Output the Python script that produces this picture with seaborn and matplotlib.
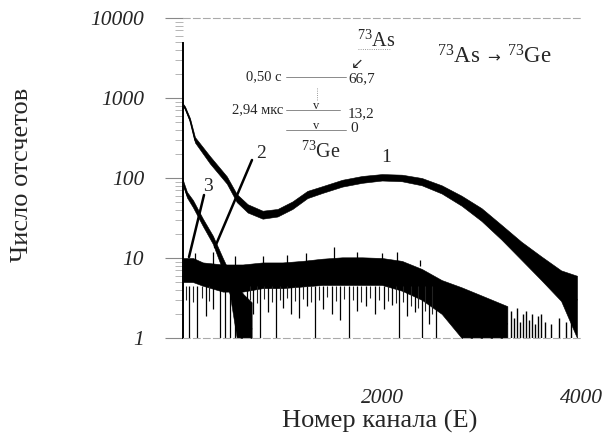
import matplotlib
matplotlib.use("Agg")
import pandas as pd
import matplotlib.pyplot as plt
from matplotlib.lines import Line2D
from matplotlib.ticker import LogLocator, NullFormatter, NullLocator
import seaborn as sns

# --- data (channel, counts) ---
# curve 1: main spectrum (band = noise envelope)
ch1 = [0, 20, 70, 120, 270, 440, 540, 650, 800, 950, 1100, 1250, 1400, 1600, 1800,
       2000, 2200, 2400, 2600, 2800, 3000, 3200, 3400, 3600, 3800, 3960]
c1_mid = [820, 754, 532, 300, 168, 94, 56, 42, 35, 37, 46, 62, 72, 86, 96,
          102, 100, 90, 72, 52, 35, 21, 12.5, 7.5, 4.5, 3]
c1_lo = [790, 725, 505, 278, 152, 85, 50, 37, 31, 33, 41, 56, 65, 78, 87,
         93, 91, 81, 64, 45, 29, 17, 9.5, 5.3, 2.9, 1]
c1_hi = [850, 785, 560, 325, 188, 105, 63, 47, 39, 41, 51, 69, 79, 95, 106,
         112, 110, 100, 81, 60, 42, 26, 16, 10.5, 7, 6]

# curve 2: fast decaying component
ch2 = [0, 10, 40, 100, 200, 300, 400, 470, 540, 610, 690]
c2_mid = [88, 80, 62, 48, 28, 17, 8.5, 5, 3, 2, 1.3]
c2_lo = [82, 74, 57, 43, 25, 15, 7, 3.5, 1, 1, 1]
c2_hi = [94, 86, 67, 53, 31, 19, 10, 6.5, 4.5, 3.5, 2.8]

# curve 3: background floor
ch3 = [0, 100, 200, 400, 600, 800, 1000, 1200, 1400, 1600, 1800, 2000, 2200,
       2400, 2600, 2800, 3000, 3260]
c3_mid = [7.2, 7.2, 6.5, 5.6, 5.6, 6.0, 6.0, 6.3, 6.8, 7.0, 7.0, 6.9, 6.0,
          4.8, 3.4, 2.3, 1.8, 1.5]
c3_lo = [5.0, 5.0, 4.5, 3.8, 3.8, 4.2, 4.2, 4.4, 4.6, 4.6, 4.6, 4.6, 3.9,
         3.0, 2.0, 1.0, 1.0, 1.0]
c3_hi = [10.0, 10.0, 8.8, 8.3, 8.3, 8.8, 8.8, 9.2, 9.8, 10.2, 10.2, 10.0, 9.2,
         7.3, 5.3, 4.3, 3.4, 2.5]

# downward noise spikes of the floor
spk_ch = [60, 140, 230, 300, 370, 420, 470, 520, 570, 640, 700, 770, 850, 930,
          1010, 1090, 1170, 1250, 1330, 1410, 1500, 1580, 1670, 1750, 1840, 1930,
          2020, 2100, 2170, 2250, 2330, 2400, 2470, 2540]
spk_lo = [1, 1, 1.9, 2.3, 1, 1, 1, 1, 1, 1.6, 2.0, 1, 2.1, 1, 2.4, 2.0, 1.8,
          2.5, 1, 2.3, 2.0, 1.7, 1, 2.2, 2.5, 2.0, 2.3, 2.6, 1, 1.9, 2.1, 1, 1.5, 1]
# shorter downward spikes (texture of the lower edge)
spk2_ch = [30, 100, 190, 260, 670, 740, 810, 890, 970, 1050, 1130, 1210, 1290,
           1370, 1450, 1540, 1620, 1710, 1790, 1880, 1970, 2060, 2140, 2210, 2290,
           2360, 2430, 2500]
spk2_lo = [3.0, 2.8, 3.2, 2.9, 3.0, 2.7, 3.1, 2.8, 3.0, 3.2, 2.9, 3.1, 2.8,
           3.0, 3.3, 2.9, 3.1, 3.0, 2.8, 3.2, 3.0, 2.9, 2.7, 2.8, 2.5, 2.4, 2.2, 2.0]
# upward spikes of the floor
up_ch = [120, 300, 520, 800, 1050, 1240, 1520, 1750, 2000, 2150, 2380]
up_hi = [11.5, 12, 10.5, 10.5, 11, 11.5, 13.7, 12, 11.5, 12, 9.5]
# sparse counts in the tail
tail_ch = [3300, 3330, 3360, 3390, 3420, 3450, 3480, 3510, 3540, 3570, 3600,
           3640, 3700, 3780, 3850, 3900]
tail_hi = [2.2, 1.8, 2.4, 1.6, 2.0, 2.2, 1.7, 2.0, 1.5, 1.9, 2.0, 1.6, 1.5,
           1.8, 1.6, 2.0]

yticks = [1, 10, 100, 1000, 10000]
ytick_labels = ["1", "10", "100", "1000", "10000"]
xticks = [2000, 4000]
xtick_labels = ["2000", "4000"]

W, H = 604, 434


def fx(x):
    return x / W


def fy(y):
    return 1 - y / H


sns.set_theme(style="white")
plt.rcParams["font.family"] = ["Liberation Serif", "DejaVu Serif"]
plt.rcParams["mathtext.fontset"] = "custom"
plt.rcParams["mathtext.rm"] = "Liberation Serif"
plt.rcParams["mathtext.it"] = "Liberation Serif:italic"

fig = plt.figure(figsize=(6.04, 4.34), dpi=100)
ax = fig.add_axes([183 / W, 1 - 338 / H, (581 - 183) / W, (338 - 18) / H])
ax.set_yscale("log")
ax.set_xlim(0, 4000)
ax.set_ylim(1, 10000)

# noise bands
for c, lo, hi in [(ch1, c1_lo, c1_hi), (ch2, c2_lo, c2_hi), (ch3, c3_lo, c3_hi)]:
    ax.fill_between(c, lo, hi, color="black", lw=0.4)

# centre lines
df = pd.concat([
    pd.DataFrame({"channel": ch1, "counts": c1_mid, "curve": "1"}),
    pd.DataFrame({"channel": ch2, "counts": c2_mid, "curve": "2"}),
    pd.DataFrame({"channel": ch3, "counts": c3_mid, "curve": "3"}),
])
sns.lineplot(data=df, x="channel", y="counts", hue="curve", units="curve",
             estimator=None, palette=["black"] * 3, legend=False, lw=1.0, ax=ax)

ax.vlines(spk_ch, spk_lo, [4.5] * len(spk_ch), color="black", lw=0.9)
ax.vlines(spk2_ch, spk2_lo, [4.5] * len(spk2_ch), color="#222222", lw=0.8)
ax.vlines(up_ch, [8] * len(up_ch), up_hi, color="black", lw=0.9)
ax.vlines(tail_ch, [1] * len(tail_ch), tail_hi, color="black", lw=1.0)

# axes styling
for s in ["top", "bottom"]:
    ax.spines[s].set_color("#aaaaaa")
    ax.spines[s].set_linewidth(0.8)
    ax.spines[s].set_linestyle((0, (6, 3)))
ax.spines["right"].set_visible(False)
ax.spines["left"].set_color("black")
ax.spines["left"].set_linewidth(1.4)
ax.spines["left"].set_bounds(1, 4900)

ax.set_yticks(yticks)
ax.set_yticklabels(ytick_labels, fontstyle="italic", fontsize=15.5)
ax.yaxis.set_minor_locator(LogLocator(base=10, subs=range(2, 10)))
ax.yaxis.set_minor_formatter(NullFormatter())
ax.tick_params(axis="y", which="major", direction="out", left=True, length=13,
               width=0.8, color="#888888", pad=15)
ax.tick_params(axis="y", which="minor", direction="out", left=True, length=6,
               width=0.6, color="#aaaaaa")
ax.set_xticks(xticks)
ax.set_xticklabels(xtick_labels, fontstyle="italic", fontsize=15.5)
ax.xaxis.set_minor_locator(NullLocator())
ax.tick_params(axis="x", length=0, pad=37)
ax.set_xlabel("")
ax.set_ylabel("")

fig.text(fx(22), fy(175), "Число отсчетов", rotation=90, ha="center", va="center", fontsize=19)
fig.text(fx(380), fy(421), "Номер канала (E)", ha="center", va="center", fontsize=19)

# decay scheme
gray = "#777777"
fig.text(fx(357), fy(47), "$^{73}$As", ha="left", va="baseline", fontsize=14.5)
fig.add_artist(Line2D([fx(358), fx(390)], [fy(49), fy(49)], color=gray, lw=0.6, ls=":"))
fig.text(fx(357), fy(63), "↙", ha="center", va="center", fontsize=11, family="DejaVu Sans")
fig.text(fx(282), fy(77), "0,50 с", ha="right", va="center", fontsize=10.5)
fig.add_artist(Line2D([fx(286), fx(346)], [fy(77), fy(77)], color=gray, lw=0.6))
fig.text(fx(348), fy(79), "66,7", ha="left", va="center", fontsize=11)
fig.add_artist(Line2D([fx(317), fx(317)], [fy(88), fy(100)], color=gray, lw=0.6, ls=":"))
fig.text(fx(283), fy(110), "2,94 мкс", ha="right", va="center", fontsize=10.5)
fig.add_artist(Line2D([fx(286), fx(340)], [fy(110), fy(110)], color=gray, lw=0.6))
fig.text(fx(316), fy(106), "v", ha="center", va="center", fontsize=9)
fig.text(fx(348), fy(114), "13,2", ha="left", va="center", fontsize=11)
fig.add_artist(Line2D([fx(286), fx(346)], [fy(130), fy(130)], color=gray, lw=0.6))
fig.text(fx(316), fy(126), "v", ha="center", va="center", fontsize=9)
fig.text(fx(350), fy(128), "0", ha="left", va="center", fontsize=11)
fig.text(fx(301), fy(158), "$^{73}$Ge", ha="left", va="baseline", fontsize=14.5)

fig.text(fx(437), fy(63), "$^{73}$As", ha="left", va="baseline", fontsize=16.5)
fig.text(fx(493), fy(58), "→", ha="center", va="center", fontsize=11, family="DejaVu Sans")
fig.text(fx(507), fy(63), "$^{73}$Ge", ha="left", va="baseline", fontsize=16.5)

# curve labels with pointers
fig.text(fx(386), fy(158), "1", ha="center", va="center", fontsize=14)
fig.text(fx(261), fy(154), "2", ha="center", va="center", fontsize=14)
fig.text(fx(208), fy(187), "3", ha="center", va="center", fontsize=14)
fig.add_artist(Line2D([fx(252), fx(215)], [fy(160), fy(247)], color="black", lw=1.8))
fig.add_artist(Line2D([fx(204), fx(189)], [fy(195), fy(257)], color="black", lw=1.8))

fig.savefig("out.png", dpi=100)
